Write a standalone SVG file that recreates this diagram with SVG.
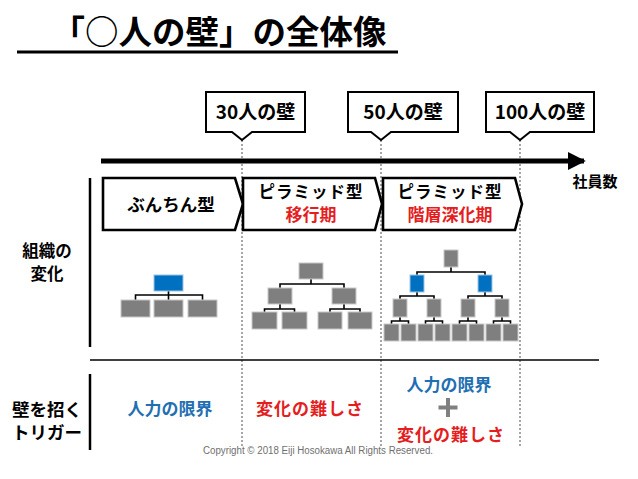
<svg xmlns="http://www.w3.org/2000/svg" width="638" height="479" viewBox="0 0 638 479">
<defs>
<style>
.jp{font-family:"Noto Sans CJK JP","Noto Sans",sans-serif;font-weight:bold;}
.c{text-anchor:middle;}
.box{fill:#fff;stroke:#000;stroke-width:2.6;stroke-linejoin:miter;}
.call{fill:#fff;stroke:#000;stroke-width:2;}
.g{fill:#7f7f7f;stroke:#c8c8c8;stroke-width:1;}
.b{fill:#0070c0;stroke:#9cc3e6;stroke-width:1;}
.ln{fill:none;stroke:#000;stroke-width:1.6;}
.dot{stroke:#a6a6a6;stroke-width:2;stroke-dasharray:2 2;}
.red{fill:#e41e1e;}
.blue{fill:#1f6fb2;}
</style>
<marker id="ah" viewBox="0 0 10 10" refX="9" refY="5" markerWidth="3.6" markerHeight="3.6" orient="auto" markerUnits="strokeWidth">
<path d="M0,0 L10,5 L0,10 Z" fill="#000"/>
</marker>
</defs>
<rect width="638" height="479" fill="#fff"/>

<g id="title">
<text class="jp c" x="219" y="44" font-size="33.5">「○人の壁」の全体像</text>
<line x1="17" y1="52" x2="398" y2="52" stroke="#000" stroke-width="3.2"/>
</g>

<g id="connectors">
<line class="dot" x1="242" y1="140" x2="242" y2="448"/>
<line class="dot" x1="381" y1="140" x2="381" y2="448"/>
<line class="dot" x1="520" y1="140" x2="520" y2="448"/>
<line x1="101" y1="161" x2="584" y2="161" stroke="#000" stroke-width="5" marker-end="url(#ah)"/>
<line x1="90" y1="178" x2="90" y2="347" stroke="#000" stroke-width="2.5"/>
<line x1="90" y1="360" x2="599" y2="360" stroke="#000" stroke-width="1.5"/>
<line x1="90" y1="374" x2="90" y2="450" stroke="#000" stroke-width="2.5"/>
<path class="ln" d="M168.5,291 V295 M135.5,300 V295 H202.5 V300 M168.5,295 V300"/>
<path class="ln" d="M311,279 V284 M280,288 V284 H344 V288 M280,304 V309 M264.5,312 V309 H294.5 V312 M344,304 V309 M330,312 V309 H360 V312"/>
<path class="ln" d="M451,267 V272 M417,275 V272 H485 V275 M417,292 V296 M400,299 V296 H434 V299 M485,292 V296 M468,299 V296 H502 V299 M400,317 V321 M391.5,324 V321 H408.5 V324 M434,317 V321 M425.5,324 V321 H442.5 V324 M468,317 V321 M459.5,324 V321 H476.5 V324 M502,317 V321 M493.5,324 V321 H510.5 V324"/>
</g>

<g id="wall30">
<path class="call" d="M206,92 H305 V132 H252 L242,140 L232,132 H206 Z"/>
<text class="jp c" x="255.5" y="119" font-size="19">30人の壁</text>
</g>
<g id="wall50">
<path class="call" d="M348,92 H458 V132 H391 L381,140 L371,132 H348 Z"/>
<text class="jp c" x="403" y="119" font-size="19">50人の壁</text>
</g>
<g id="wall100">
<path class="call" d="M486,92 H594 V132 H530 L520,140 L510,132 H486 Z"/>
<text class="jp c" x="540" y="119" font-size="19">100人の壁</text>
</g>

<g id="axis-label">
<text class="jp c" x="595" y="187" font-size="15" font-weight="normal">社員数</text>
</g>

<g id="stage1">
<path class="box" d="M103,178 H235 L243,204 L235,230 H103 Z"/>
<text class="jp c" x="171" y="211" font-size="17.5">ぶんちん型</text>
</g>
<g id="stage2">
<path class="box" d="M243,178 H375 L382,204 L375,230 H243 Z"/>
<text class="jp c" x="311" y="198" font-size="16.5" letter-spacing="1">ピラミッド型</text>
<text class="jp c red" x="311" y="221" font-size="17">移行期</text>
</g>
<g id="stage3">
<path class="box" d="M383,178 H515 L522,204 L515,230 H383 Z"/>
<text class="jp c" x="450" y="198" font-size="16.5" letter-spacing="1">ピラミッド型</text>
<text class="jp c red" x="450" y="221" font-size="17">階層深化期</text>
</g>

<g id="label-org">
<text class="jp c" font-size="16.5"><tspan x="47" y="257">組織の</tspan><tspan x="47" y="280">変化</tspan></text>
</g>
<g id="label-trigger">
<text class="jp c" font-size="17.5"><tspan x="47" y="416">壁を招く</tspan><tspan x="47" y="439">トリガー</tspan></text>
</g>

<g id="org1">
<rect class="b" x="154" y="275" width="29" height="16"/>
<rect class="g" x="121" y="300" width="29" height="17"/>
<rect class="g" x="154" y="300" width="29" height="17"/>
<rect class="g" x="188" y="300" width="29" height="17"/>
</g>
<g id="org2">
<rect class="g" x="299" y="263" width="24" height="16"/>
<rect class="g" x="268" y="288" width="24" height="16"/>
<rect class="g" x="332" y="288" width="24" height="16"/>
<rect class="g" x="252" y="312" width="25" height="17"/>
<rect class="g" x="282" y="312" width="25" height="17"/>
<rect class="g" x="318" y="312" width="24" height="17"/>
<rect class="g" x="348" y="312" width="24" height="17"/>
</g>
<g id="org3">
<rect class="g" x="444" y="250" width="14" height="17"/>
<rect class="b" x="410" y="275" width="14" height="17"/>
<rect class="b" x="478" y="275" width="14" height="17"/>
<rect class="g" x="393" y="299" width="14" height="18"/>
<rect class="g" x="427" y="299" width="14" height="18"/>
<rect class="g" x="461" y="299" width="14" height="18"/>
<rect class="g" x="495" y="299" width="14" height="18"/>
<rect class="g" x="384" y="324" width="15" height="17"/>
<rect class="g" x="401" y="324" width="15" height="17"/>
<rect class="g" x="418" y="324" width="15" height="17"/>
<rect class="g" x="435" y="324" width="15" height="17"/>
<rect class="g" x="452" y="324" width="15" height="17"/>
<rect class="g" x="469" y="324" width="15" height="17"/>
<rect class="g" x="486" y="324" width="15" height="17"/>
<rect class="g" x="503" y="324" width="15" height="17"/>
</g>

<g id="trigger1">
<text class="jp c blue" x="170" y="415" font-size="17">人力の限界</text>
</g>
<g id="trigger2">
<text class="jp c red" x="310" y="415" font-size="17" letter-spacing="1">変化の難しさ</text>
</g>
<g id="trigger3">
<text class="jp c blue" x="449" y="391" font-size="17">人力の限界</text>
<path d="M448,398 V417 M438.5,407.5 H457.5" stroke="#808080" stroke-width="4" fill="none"/>
<text class="jp c red" x="451" y="441" font-size="17" letter-spacing="1">変化の難しさ</text>
</g>

<text x="318" y="454" font-family="'Liberation Sans',sans-serif" font-size="10" fill="#6f6f6f" text-anchor="middle" textLength="230" lengthAdjust="spacingAndGlyphs">Copyright © 2018 Eiji Hosokawa All Rights Reserved.</text>
</svg>
